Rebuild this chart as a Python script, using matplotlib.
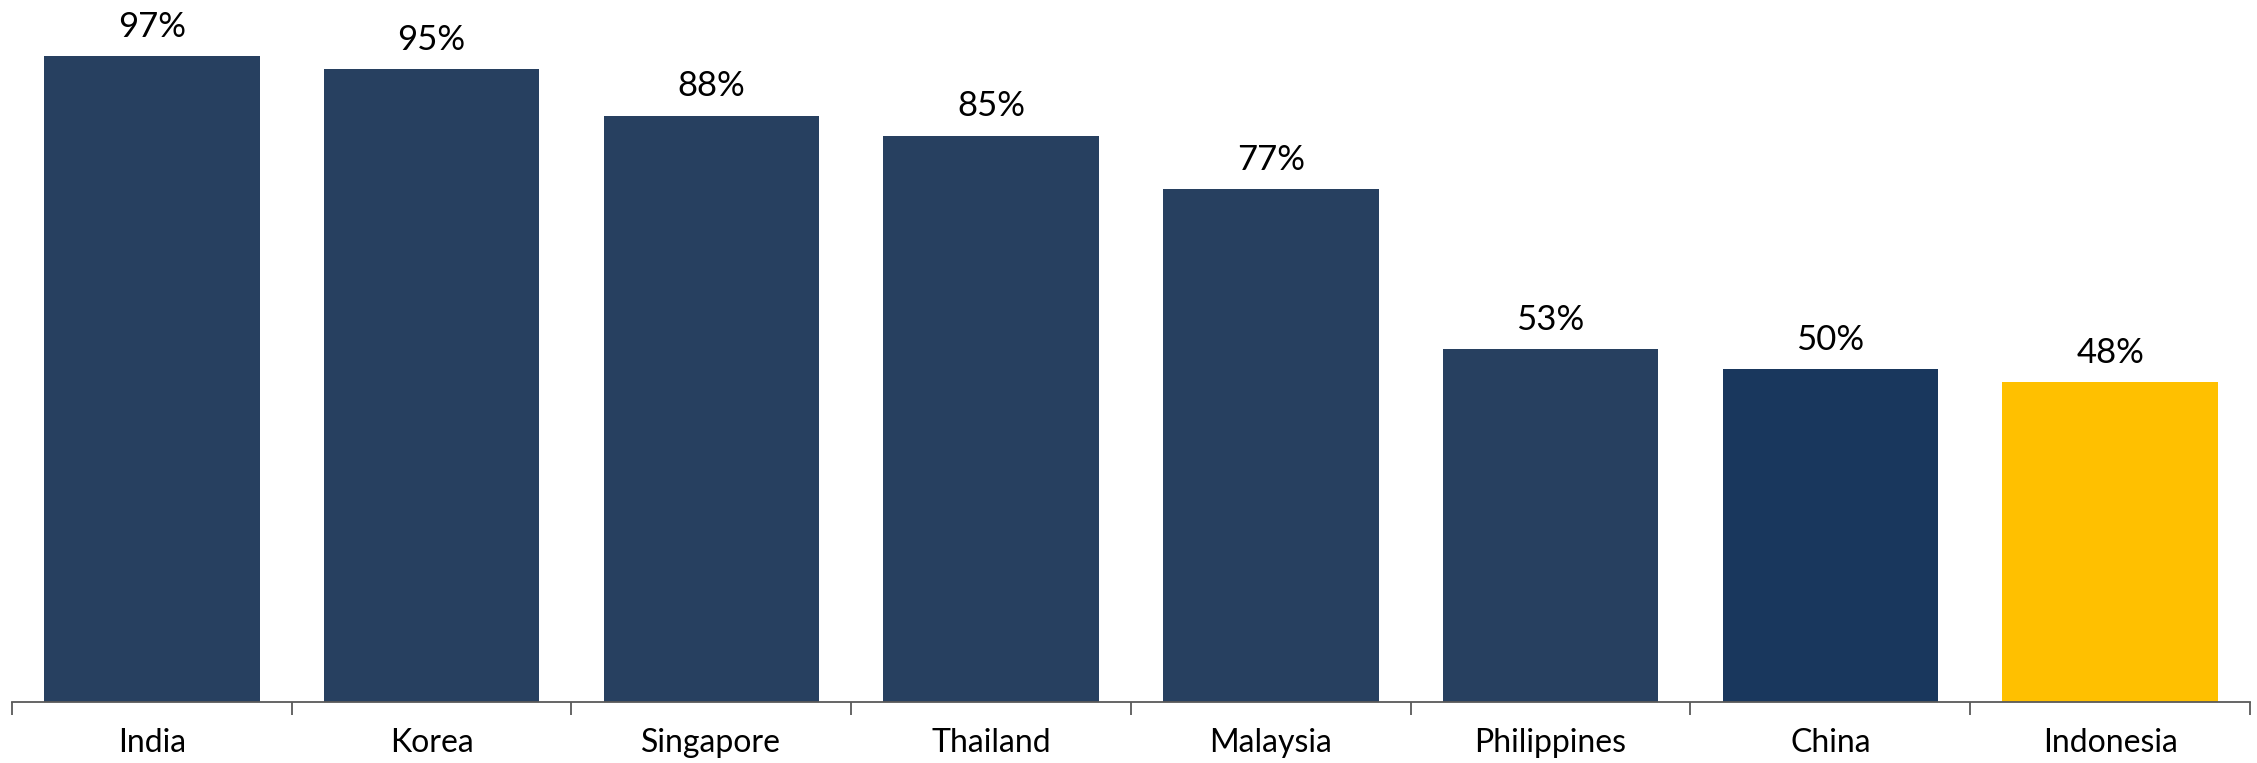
import matplotlib.pyplot as plt
import numpy as np

countries = ["India", "Korea", "Singapore", "Thailand", "Malaysia", "Philippines", "China", "Indonesia"]
shares = [0.97, 0.95, 0.88, 0.85, 0.77, 0.53, 0.50, 0.48]
bar_colors = ["#274060", "#274060", "#274060", "#274060", "#274060", "#274060", "#19375D", "#FFC000"]

plt.rcParams['font.family'] = ['Lato', 'DejaVu Sans']

fig = plt.figure(figsize=(22.57, 7.63), dpi=100)
ax = fig.add_axes([0.0053, 0.0800, 0.9916, 0.8728])

x = np.arange(len(countries))
bars = ax.bar(x, shares, width=0.77, color=bar_colors, zorder=2)

for xi, v in zip(x, shares):
    ax.annotate(f"{v*100:.0f}%", (xi, v), xytext=(0, 14), textcoords="offset points",
                ha="center", va="baseline", fontsize=25, color="#000000")

ax.set_xlim(-0.5, len(countries) - 0.5)
ax.set_ylim(0, 1.0)

for side in ["top", "right", "left"]:
    ax.spines[side].set_visible(False)
ax.spines["bottom"].set_color("#595959")
ax.spines["bottom"].set_linewidth(1.3)

ax.set_yticks([])
ax.set_xticks(x)
ax.set_xticklabels(countries, fontsize=23, color="#000000")
ax.tick_params(axis="x", which="major", length=0, pad=19)
ax.set_xticks(np.arange(-0.5, len(countries)), minor=True)
ax.tick_params(axis="x", which="minor", length=9, width=1.3, color="#595959")

fig.savefig("out.png", dpi=100)
